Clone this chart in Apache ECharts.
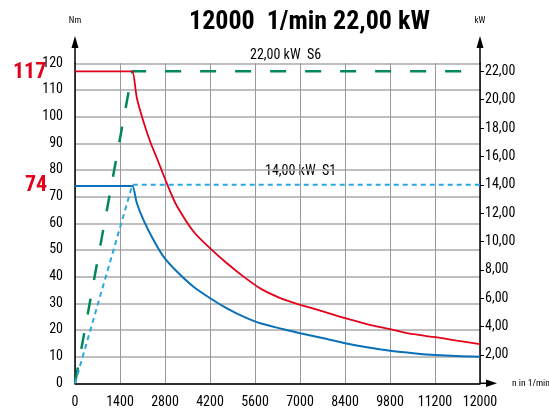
<!DOCTYPE html>
<html>
<head>
<meta charset="utf-8">
<script src="https://cdn.jsdelivr.net/npm/echarts@6/dist/echarts.min.js"></script>
<style>
  html, body { margin: 0; padding: 0; background: #fff; }
  #main { width: 549px; height: 414px; }
</style>
</head>
<body>
<div id="main"></div>
<script>
// speed axis labels (gridlines are equally spaced)
const xLabels = ['0', '1400', '2800', '4200', '5600', '7000', '8400', '9800', '11200', '12000'];
const xMax = 12000;

// torque S6 [rpm, Nm]
const torqueS6 = [
  [0, 117], [1650, 117], [1700, 117], [1834, 106.9], [2030, 98.1], [2228, 90.6], [2427, 84.4],
  [2622, 78.1], [2821, 71.9], [3019, 66.5], [3511, 56.9], [4006, 50.6], [4501, 45.0],
  [4993, 40.0], [5487, 35.6], [5982, 32.5], [6376, 30.6], [6673, 29.4], [7363, 26.9],
  [8006, 24.4], [8649, 22.2], [9339, 20.3], [10030, 18.4], [10673, 17.3], [11316, 16.0],
  [12000, 14.7]
];

// torque S1 [rpm, Nm]
const torqueS1 = [
  [0, 74], [1650, 74], [1700, 74], [1834, 67.5], [2030, 61.2], [2326, 53.7], [2622, 47.5],
  [3019, 41.9], [3511, 36.2], [4006, 31.9], [4501, 28.1], [4993, 25.0], [5487, 22.5],
  [6178, 20.3], [6673, 18.8], [7363, 16.9], [8006, 15.0], [8649, 13.5], [9339, 12.2],
  [10030, 11.3], [10673, 10.6], [11316, 10.2], [12000, 10.0]
];

// power [rpm, kW]
const powerS6 = [[0, 0], [1700, 22], [12000, 22]];
const powerS1 = [[0, 0], [1700, 14], [12000, 14]];

const kwTicks = [2, 4, 6, 8, 10, 12, 14, 16, 18, 20, 22];

const narrow = '"Roboto Condensed", "DejaVu Sans Condensed", sans-serif';

let myChart = echarts.init(document.getElementById('main'));
let option = {
  animation: false,
  textStyle: { fontFamily: narrow },
  title: {
    text: '12000  1/min 22,00 kW',
    left: 184,
    top: 4,
    textStyle: { fontSize: 26, fontWeight: 'bold', color: '#000', fontFamily: narrow }
  },
  grid: { left: 75, right: 69, top: 63.3, bottom: 30.7, containLabel: false, outerBoundsMode: 'none' },
  xAxis: {
    type: 'value',
    min: 0,
    max: xMax,
    interval: xMax / 9,
    name: 'n in 1/min',
    nameLocation: 'end',
    nameGap: 32,
    nameTextStyle: { fontSize: 9.5, color: '#000', align: 'left', verticalAlign: 'middle', fontFamily: narrow },
    axisLine: { lineStyle: { color: '#000', width: 1.5 } },
    axisTick: { show: false },
    axisLabel: {
      color: '#000', fontSize: 14, margin: 12, fontFamily: narrow,
      formatter: function (v) { return xLabels[Math.round(v * 9 / xMax)]; }
    },
    splitLine: { show: true, lineStyle: { color: '#999', width: 1 } }
  },
  yAxis: [
    {
      type: 'value',
      min: 0,
      max: 120,
      interval: 10,
      name: 'Nm',
      nameLocation: 'end',
      nameGap: 38,
      nameTextStyle: { fontSize: 9, color: '#000', align: 'center', fontFamily: narrow },
      axisLine: { show: true, lineStyle: { color: '#000', width: 1.5 } },
      axisTick: { show: false },
      axisLabel: { color: '#000', fontSize: 14, margin: 12, fontFamily: narrow },
      splitLine: { show: true, lineStyle: { color: '#aaa', width: 1.5 } }
    },
    {
      type: 'value',
      min: 0,
      max: 22 * 120 / 117,
      position: 'right',
      name: 'kW',
      nameLocation: 'end',
      nameGap: 38,
      nameTextStyle: { fontSize: 9, color: '#000', align: 'center', fontFamily: narrow },
      axisLine: { show: true, lineStyle: { color: '#000', width: 1.5 } },
      axisTick: { show: true, length: 4, customValues: kwTicks, lineStyle: { color: '#000', width: 1 } },
      axisLabel: {
        color: '#000', fontSize: 14, margin: 5, fontFamily: narrow,
        customValues: kwTicks,
        formatter: function (v) { return v.toFixed(2).replace('.', ','); }
      },
      splitLine: { show: false }
    }
  ],
  graphic: [
    // axis arrows
    { type: 'line', shape: { x1: 75, y1: 63, x2: 75, y2: 45 }, style: { stroke: '#000', lineWidth: 1.5 } },
    { type: 'polygon', shape: { points: [[71.5, 48], [78.5, 48], [75, 36]] }, style: { fill: '#000' } },
    { type: 'line', shape: { x1: 480, y1: 63, x2: 480, y2: 45 }, style: { stroke: '#000', lineWidth: 1.5 } },
    { type: 'polygon', shape: { points: [[476.5, 48], [483.5, 48], [480, 36]] }, style: { fill: '#000' } },
    { type: 'line', shape: { x1: 480, y1: 383.3, x2: 488, y2: 383.3 }, style: { stroke: '#000', lineWidth: 1.5 } },
    { type: 'polygon', shape: { points: [[486, 379.5], [486, 387], [497, 383.3]] }, style: { fill: '#000' } },
    // texts
    { type: 'text', left: 250, top: 48, style: { text: '22,00 kW  S6', fontSize: 14, fill: '#000', fontFamily: narrow } },
    { type: 'text', left: 265, top: 164, style: { text: '14,00 kW  S1', fontSize: 14, fill: '#000', fontFamily: narrow } },
    { type: 'text', left: 13, top: 61, style: { text: '117', fontSize: 22, fontWeight: 'bold', fill: '#e3001b', fontFamily: narrow } },
    { type: 'text', left: 25, top: 174, style: { text: '74', fontSize: 22, fontWeight: 'bold', fill: '#e3001b', fontFamily: narrow } }
  ],
  series: [
    {
      name: 'P S6',
      type: 'line',
      yAxisIndex: 1,
      data: powerS6,
      symbol: 'none',
      lineStyle: { color: '#00875a', width: 2.5, type: [16, 19] },
      z: 2
    },
    {
      name: 'P S1',
      type: 'line',
      yAxisIndex: 1,
      data: powerS1,
      symbol: 'none',
      lineStyle: { color: '#29a8e0', width: 2, type: [5, 4] },
      z: 2
    },
    {
      name: 'M S6',
      type: 'line',
      data: torqueS6,
      symbol: 'none',
      smooth: 0.3,
      lineStyle: { color: '#e3001b', width: 1.8 },
      z: 3
    },
    {
      name: 'M S1',
      type: 'line',
      data: torqueS1,
      symbol: 'none',
      smooth: 0.3,
      lineStyle: { color: '#0a71b9', width: 2 },
      z: 3
    }
  ]
};
myChart.setOption(option);
</script>
</body>
</html>
